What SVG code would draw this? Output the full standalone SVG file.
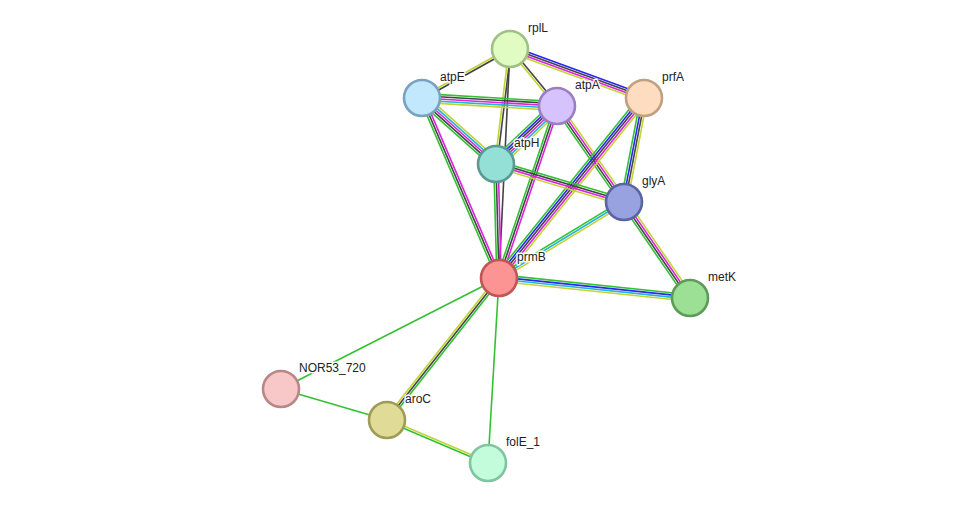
<svg xmlns="http://www.w3.org/2000/svg" width="975" height="509" viewBox="0 0 975 509">
<style>
line{stroke-width:1.6;fill:none}
.g{stroke:#33c133}.b{stroke:#2626f5}.k{stroke:#444}.m{stroke:#dd22dd}.c{stroke:#22b4dc}.y{stroke:#c2d433}
.n circle{stroke-width:2.6}
.n text{font-family:"Liberation Sans",Arial,sans-serif;font-size:12px;fill:#222;stroke:#fff;stroke-width:3;paint-order:stroke;stroke-linejoin:round}
</style>
<rect width="975" height="509" fill="#fff"/>
<g id="edges">
<g transform="translate(422,98) rotate(-29.11)"><line class="y" x1="0" y1="-1.1" x2="100.7" y2="-1.1"/><line class="k" x1="0" y1="1.1" x2="100.7" y2="1.1"/></g>
<g transform="translate(510,49) rotate(20.09)"><line class="b" x1="0" y1="-3.3" x2="142.7" y2="-3.3"/><line class="k" x1="0" y1="-1.1" x2="142.7" y2="-1.1"/><line class="m" x1="0" y1="1.1" x2="142.7" y2="1.1"/><line class="y" x1="0" y1="3.3" x2="142.7" y2="3.3"/></g>
<g transform="translate(510,49) rotate(50.50)"><line class="k" x1="0" y1="-1.1" x2="73.9" y2="-1.1"/><line class="y" x1="0" y1="1.1" x2="73.9" y2="1.1"/></g>
<g transform="translate(510,49) rotate(96.94)"><line class="k" x1="0" y1="-1.1" x2="115.85" y2="-1.1"/><line class="y" x1="0" y1="1.1" x2="115.85" y2="1.1"/></g>
<g transform="translate(510,49) rotate(92.75)"><line class="k" x1="0" y1="0" x2="229.26" y2="0"/></g>
<g transform="translate(422,98) rotate(3.39)"><line class="g" x1="0" y1="-4.4" x2="135.24" y2="-4.4"/><line class="k" x1="0" y1="-2.2" x2="135.24" y2="-2.2"/><line class="m" x1="0" y1="0" x2="135.24" y2="0"/><line class="c" x1="0" y1="2.2" x2="135.24" y2="2.2"/><line class="y" x1="0" y1="4.4" x2="135.24" y2="4.4"/></g>
<g transform="translate(422,98) rotate(41.73)"><line class="y" x1="0" y1="-4.4" x2="99.16" y2="-4.4"/><line class="c" x1="0" y1="-2.2" x2="99.16" y2="-2.2"/><line class="m" x1="0" y1="0" x2="99.16" y2="0"/><line class="k" x1="0" y1="2.2" x2="99.16" y2="2.2"/><line class="g" x1="0" y1="4.4" x2="99.16" y2="4.4"/></g>
<g transform="translate(422,98) rotate(66.84)"><line class="m" x1="0" y1="-2.2" x2="195.78" y2="-2.2"/><line class="k" x1="0" y1="0" x2="195.78" y2="0"/><line class="g" x1="0" y1="2.2" x2="195.78" y2="2.2"/></g>
<g transform="translate(496,164) rotate(-43.56)"><line class="g" x1="0" y1="-5.5" x2="84.17" y2="-5.5"/><line class="b" x1="0" y1="-3.3" x2="84.17" y2="-3.3"/><line class="k" x1="0" y1="-1.1" x2="84.17" y2="-1.1"/><line class="m" x1="0" y1="1.1" x2="84.17" y2="1.1"/><line class="c" x1="0" y1="3.3" x2="84.17" y2="3.3"/><line class="y" x1="0" y1="5.5" x2="84.17" y2="5.5"/></g>
<g transform="translate(499,278) rotate(-71.36)"><line class="g" x1="0" y1="-2.2" x2="181.5" y2="-2.2"/><line class="k" x1="0" y1="0" x2="181.5" y2="0"/><line class="m" x1="0" y1="2.2" x2="181.5" y2="2.2"/></g>
<g transform="translate(557,106) rotate(55.09)"><line class="y" x1="0" y1="-3.3" x2="117.07" y2="-3.3"/><line class="m" x1="0" y1="-1.1" x2="117.07" y2="-1.1"/><line class="k" x1="0" y1="1.1" x2="117.07" y2="1.1"/><line class="g" x1="0" y1="3.3" x2="117.07" y2="3.3"/></g>
<g transform="translate(499,278) rotate(-51.15)"><line class="g" x1="0" y1="-4.4" x2="231.1" y2="-4.4"/><line class="b" x1="0" y1="-2.2" x2="231.1" y2="-2.2"/><line class="k" x1="0" y1="0" x2="231.1" y2="0"/><line class="m" x1="0" y1="2.2" x2="231.1" y2="2.2"/><line class="y" x1="0" y1="4.4" x2="231.1" y2="4.4"/></g>
<g transform="translate(624,202) rotate(-79.11)"><line class="g" x1="0" y1="-3.3" x2="105.9" y2="-3.3"/><line class="b" x1="0" y1="-1.1" x2="105.9" y2="-1.1"/><line class="k" x1="0" y1="1.1" x2="105.9" y2="1.1"/><line class="y" x1="0" y1="3.3" x2="105.9" y2="3.3"/></g>
<g transform="translate(496,164) rotate(16.53)"><line class="g" x1="0" y1="-3.3" x2="133.5" y2="-3.3"/><line class="k" x1="0" y1="-1.1" x2="133.5" y2="-1.1"/><line class="m" x1="0" y1="1.1" x2="133.5" y2="1.1"/><line class="y" x1="0" y1="3.3" x2="133.5" y2="3.3"/></g>
<g transform="translate(496,164) rotate(88.49)"><line class="m" x1="0" y1="-2.2" x2="114.04" y2="-2.2"/><line class="k" x1="0" y1="0" x2="114.04" y2="0"/><line class="g" x1="0" y1="2.2" x2="114.04" y2="2.2"/></g>
<g transform="translate(499,278) rotate(-31.30)"><line class="g" x1="0" y1="-2.2" x2="146.3" y2="-2.2"/><line class="c" x1="0" y1="0" x2="146.3" y2="0"/><line class="y" x1="0" y1="2.2" x2="146.3" y2="2.2"/></g>
<g transform="translate(624,202) rotate(55.49)"><line class="y" x1="0" y1="-3.3" x2="116.5" y2="-3.3"/><line class="m" x1="0" y1="-1.1" x2="116.5" y2="-1.1"/><line class="k" x1="0" y1="1.1" x2="116.5" y2="1.1"/><line class="g" x1="0" y1="3.3" x2="116.5" y2="3.3"/></g>
<g transform="translate(499,278) rotate(5.98)"><line class="g" x1="0" y1="-3.3" x2="192.05" y2="-3.3"/><line class="b" x1="0" y1="-1.1" x2="192.05" y2="-1.1"/><line class="c" x1="0" y1="1.1" x2="192.05" y2="1.1"/><line class="y" x1="0" y1="3.3" x2="192.05" y2="3.3"/></g>
<g transform="translate(387,420) rotate(-51.74)"><line class="y" x1="0" y1="-2.2" x2="180.85" y2="-2.2"/><line class="k" x1="0" y1="0" x2="180.85" y2="0"/><line class="g" x1="0" y1="2.2" x2="180.85" y2="2.2"/></g>
<line class="g" x1="499" y1="278" x2="281" y2="389"/>
<line class="g" x1="499" y1="278" x2="488" y2="463"/>
<line class="g" x1="281" y1="389" x2="387" y2="420"/>
<g transform="translate(387,420) rotate(23.06)"><line class="y" x1="0" y1="-1.1" x2="109.8" y2="-1.1"/><line class="g" x1="0" y1="1.1" x2="109.8" y2="1.1"/></g>
</g>
<g id="rplL" class="n"><circle cx="510" cy="49" r="18" fill="#e0fcc2" stroke="#a0c084"/><text x="528" y="32">rplL</text></g>
<g id="atpE" class="n"><circle cx="422" cy="98" r="18" fill="#c2e8fd" stroke="#78a2c0"/><text x="440" y="81">atpE</text></g>
<g id="atpA" class="n"><circle cx="557" cy="106" r="18" fill="#d6c2fc" stroke="#9a80c2"/><text x="575" y="89">atpA</text></g>
<g id="prfA" class="n"><circle cx="644" cy="98" r="18" fill="#fddcc0" stroke="#c0a080"/><text x="662" y="81">prfA</text></g>
<g id="atpH" class="n"><circle cx="496" cy="164" r="18" fill="#94e0d6" stroke="#5a9a92"/><text x="514" y="147">atpH</text></g>
<g id="glyA" class="n"><circle cx="624" cy="202" r="18" fill="#98a2e0" stroke="#5a64a2"/><text x="642" y="185">glyA</text></g>
<g id="prmB" class="n"><circle cx="499" cy="278" r="18" fill="#fc9494" stroke="#c05656"/><text x="517" y="261">prmB</text></g>
<g id="metK" class="n"><circle cx="690" cy="298" r="18" fill="#9ce096" stroke="#5c9c58"/><text x="708" y="281">metK</text></g>
<g id="NOR53_720" class="n"><circle cx="281" cy="389" r="18" fill="#f8c8c8" stroke="#b88888"/><text x="299" y="372">NOR53_720</text></g>
<g id="aroC" class="n"><circle cx="387" cy="420" r="18" fill="#e0dc98" stroke="#a09c58"/><text x="405" y="403">aroC</text></g>
<g id="folE_1" class="n"><circle cx="488" cy="463" r="18" fill="#c2fcda" stroke="#80c4a0"/><text x="506" y="446">folE_1</text></g>
</svg>
